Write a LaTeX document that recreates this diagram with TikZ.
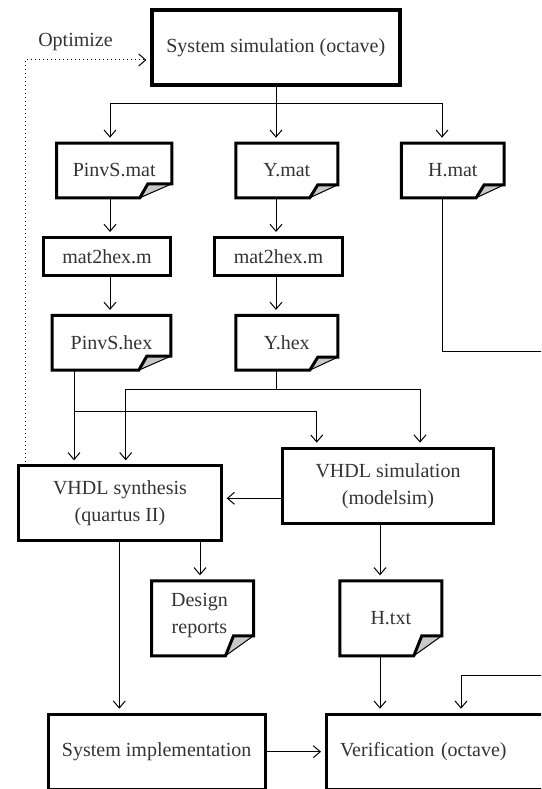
\documentclass[tikz,border=0pt]{standalone}
\usepackage{fontspec}
\setmainfont{Liberation Serif}
\usetikzlibrary{arrows.meta,calc}
\definecolor{labelink}{HTML}{333333}
\definecolor{foldfill}{HTML}{C8C8C8}
\newcommand\flowfont{\fontsize{20}{27}\selectfont}
% document symbol: outline with a turned-up bottom-right corner
% #1 node, #2 inset of the flap at the bottom edge, #3 inset of the flap top, #4 flap height
\newcommand\docoutline[4]{%
  \fill[foldfill] ($(#1.south east)+(-#2,0)$) -- ($(#1.south east)+(-#3,-#4)$) -- ($(#1.south east)+(0,-#4)$) -- cycle;
  \draw[line width=1pt] ($(#1.south east)+(0,-#4)$) -- ($(#1.south east)+(-#2,0)$);
  \draw[boxline] (#1.north west) -- (#1.north east) -- ($(#1.south east)+(0,-#4)$)
    -- ($(#1.south east)+(-#3,-#4)$) -- ($(#1.south east)+(-#2,0)$) -- (#1.south west) -- cycle;}
\tikzset{
  boxline/.style={line width=3pt},
  flowbox/.style={draw, boxline, rectangle, inner sep=0pt, outer sep=0pt, align=center, font=\flowfont, text=labelink},
  docbox/.style={rectangle, inner sep=0pt, outer sep=0pt, align=center, font=\flowfont, text=labelink},
  flowtext/.style={inner sep=0pt, align=center, font=\flowfont, text=labelink},
  link/.style={line width=1pt},
  flow/.style={link, -{Straight Barb[length=7pt,width=12pt]}, shorten >=5.5pt},
  feedback/.style={line width=1pt, dash pattern=on 1pt off 3pt, -{Straight Barb[length=7pt,width=12pt]}, shorten >=5.5pt},
}
\begin{document}
\begin{tikzpicture}[x=1pt,y=-1pt]
\useasboundingbox (0,0) rectangle (541,789);
\clip (0,0) rectangle (541,789);

% column and row guides for the connectors
\coordinate (colA) at (110,0);
\coordinate (colB) at (276,0);
\coordinate (colC) at (442,0);
\coordinate (colD) at (316.7,0);
\coordinate (colE) at (125.7,0);
\coordinate (colF) at (420,0);
\coordinate (colG) at (380,0);
\coordinate (colH) at (200,0);
\coordinate (colI) at (119.3,0);
\coordinate (colJ) at (461,0);
\coordinate (colK) at (25,0);
\coordinate (rowS) at (0,498.3);
\coordinate (rowO) at (0,60);

% process boxes and documents
\node[flowbox, line width=4pt, minimum width=247.7, minimum height=74.4] (sim) at (275.8,47.5) {System simulation (octave)};
\node[docbox, minimum width=115.3, minimum height=54.6] (pmat) at (114.2,170.5) {PinvS.mat};
\node[docbox, minimum width=102, minimum height=54.6] (ymat) at (286.8,170.5) {Y.mat};
\node[docbox, minimum width=102.7, minimum height=54.6] (hmat) at (452.8,170.5) {H.mat};
\node[flowbox, minimum width=127.6, minimum height=38] (hexa) at (107,256.5) {mat2hex.m};
\node[flowbox, minimum width=128.6, minimum height=38] (hexb) at (278.5,256.5) {mat2hex.m};
\node[docbox, minimum width=118.6, minimum height=54.7] (phex) at (111.5,342.8) {PinvS.hex};
\node[docbox, minimum width=102, minimum height=54.7] (yhex) at (286.8,342.8) {Y.hex};
\node[flowbox, minimum width=202.4, minimum height=74.4] (synth) at (120,503) {VHDL synthesis\\(quartus II)};
\node[flowbox, minimum width=211, minimum height=75.3] (vsim) at (388,485.8) {VHDL simulation\\(modelsim)};
\node[docbox, minimum width=102, minimum height=75] (design) at (202.5,618.3) {};
\node[flowtext] (designtxt) at (199.5,615.3) {Design\\reports};
\node[docbox, minimum width=102, minimum height=75] (htxt) at (390.8,618.3) {H.txt};
\node[flowbox, minimum width=217, minimum height=75] (impl) at (156.7,751.7) {System implementation};
\node[flowbox, minimum width=241, minimum height=75, text width=214, align=left] (verif) at (447,751.7) {Verification (octave)};
\node[flowtext] (optlbl) at (75.5,41.7) {Optimize};

\docoutline{pmat}{32}{24}{14}
\docoutline{ymat}{28}{20}{13}
\docoutline{hmat}{28}{20}{13}
\docoutline{phex}{32}{24}{14}
\docoutline{yhex}{28}{20}{13}
\docoutline{design}{28}{20}{20}
\docoutline{htxt}{28}{20}{20}

% fan-out from the system simulation
\coordinate (fork) at (276,104);
\draw[link] (sim.south -| colB) -- (fork);
\draw[flow] (fork) -| (pmat.north -| colA);
\draw[flow] (fork) -- (ymat.north -| colB);
\draw[flow] (fork) -| (hmat.north -| colC);

% conversion chain
\draw[flow] (pmat.south -| colA) -- (hexa.north -| colA);
\draw[flow] (ymat.south -| colB) -- (hexb.north -| colB);
\draw[flow] (hexa.south -| colA) -- (phex.north -| colA);
\draw[flow] (hexb.south -| colB) -- (yhex.north -| colB);

% hex files feed synthesis and simulation
\coordinate (pjoin) at (74,411);
\coordinate (yjoin) at (276,389);
\draw[link] (phex.south -| pjoin) -- (pjoin);
\draw[flow] (pjoin) -- (synth.north -| pjoin);
\draw[flow] (pjoin) -| (vsim.north -| colD);
\draw[link] (yhex.south -| colB) -- (yjoin);
\draw[flow] (yjoin) -| (synth.north -| colE);
\draw[flow] (yjoin) -| (vsim.north -| colF);

% downstream flow
\draw[flow] (vsim.west |- rowS) -- (synth.east |- rowS);
\draw[flow] (vsim.south -| colG) -- (htxt.north -| colG);
\draw[flow] (synth.south -| colH) -- (design.north -| colH);
\draw[flow] (synth.south -| colI) -- (impl.north -| colI);
\draw[flow] (htxt.south -| colG) -- (verif.north -| colG);
\draw[flow] (impl.east) -- (verif.west);

% H.mat reference data routed round the right side
\coordinate (hout) at (560,351);
\coordinate (hin) at (560,675);
\draw[link] (hmat.south -| colC) |- (hout);
\draw[flow] (hin) -| (verif.north -| colJ);

% optimisation loop
\draw[feedback] (synth.north -| colK) |- (sim.west |- rowO);
\end{tikzpicture}
\end{document}
